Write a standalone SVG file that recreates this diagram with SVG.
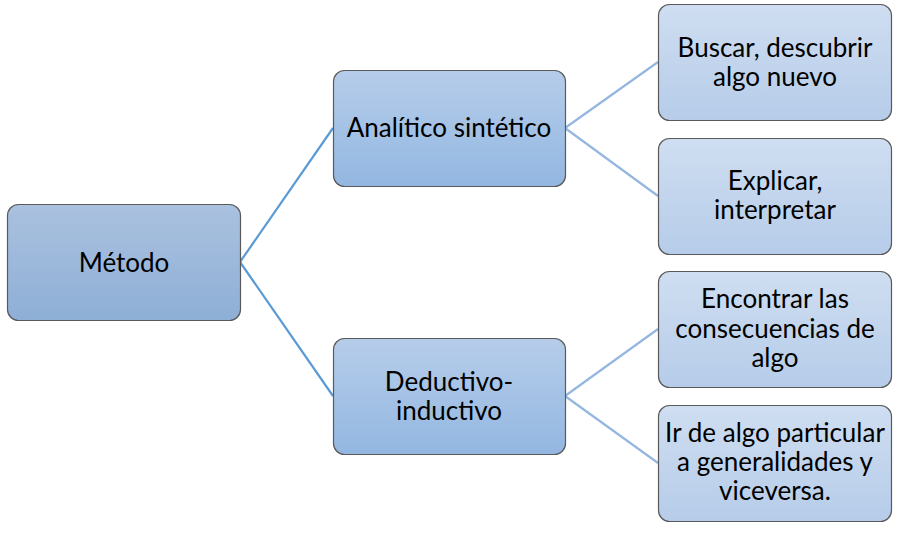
<svg xmlns="http://www.w3.org/2000/svg" width="908" height="534" viewBox="0 0 908 534">
<defs>
<linearGradient id="g1" x1="0" y1="0" x2="0" y2="1">
<stop offset="0" stop-color="#aac1df"/>
<stop offset="1" stop-color="#8eafd6"/>
</linearGradient>
<linearGradient id="g2" x1="0" y1="0" x2="0" y2="1">
<stop offset="0" stop-color="#b6cdea"/>
<stop offset="1" stop-color="#93b7e1"/>
</linearGradient>
<linearGradient id="g3" x1="0" y1="0" x2="0" y2="1">
<stop offset="0" stop-color="#cfdef1"/>
<stop offset="1" stop-color="#b6cce9"/>
</linearGradient>
</defs>
<style>
rect{stroke:#5a5a5a;stroke-width:1.2}
text{font-family:Lato,"Open Sans","Liberation Sans",sans-serif;font-size:26px;fill:#000;text-anchor:middle}
.c1{stroke:#5b9bd5;stroke-width:2.2;fill:none}
.c2{stroke:#95b7df;stroke-width:2.2;fill:none}
</style>
<g id="connectors">
<path class="c1" d="M240 262 L333 128"/>
<path class="c1" d="M240 262 L333 396"/>
<path class="c2" d="M565 128 L658 62"/>
<path class="c2" d="M565 128 L658 196"/>
<path class="c2" d="M565 396 L658 329"/>
<path class="c2" d="M565 396 L658 463"/>
</g>
<g id="metodo">
<rect x="7.5" y="204.5" width="233" height="116" rx="11" fill="url(#g1)"/>
<text x="124" y="272">Método</text>
</g>
<g id="analitico">
<rect x="333.5" y="70.5" width="232" height="116" rx="11" fill="url(#g2)"/>
<text x="449" y="137">Analítico sintético</text>
</g>
<g id="deductivo">
<rect x="333.5" y="338.5" width="232" height="116" rx="11" fill="url(#g2)"/>
<text x="449" y="391">Deductivo-</text>
<text x="449" y="420">inductivo</text>
</g>
<g id="buscar">
<rect x="658.5" y="4.5" width="233" height="116" rx="11" fill="url(#g3)"/>
<text x="775" y="57">Buscar, descubrir</text>
<text x="775" y="86">algo nuevo</text>
</g>
<g id="explicar">
<rect x="658.5" y="138.5" width="233" height="116" rx="11" fill="url(#g3)"/>
<text x="775" y="190">Explicar,</text>
<text x="775" y="219">interpretar</text>
</g>
<g id="encontrar">
<rect x="658.5" y="271.5" width="233" height="116" rx="11" fill="url(#g3)"/>
<text x="775" y="308">Encontrar las</text>
<text x="775" y="338">consecuencias de</text>
<text x="775" y="367">algo</text>
</g>
<g id="ir">
<rect x="658.5" y="405.5" width="233" height="116" rx="11" fill="url(#g3)"/>
<text x="775" y="442">Ir de algo particular</text>
<text x="775" y="471">a generalidades y</text>
<text x="775" y="500">viceversa.</text>
</g>
</svg>
